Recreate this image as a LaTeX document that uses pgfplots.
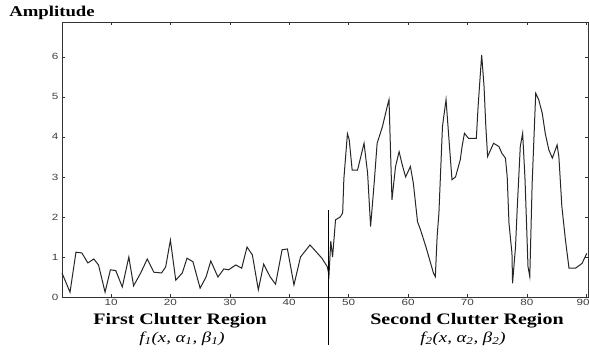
\documentclass[border=0pt]{standalone}
\usepackage{fontspec}
\usepackage{pgfplots}
\pgfplotsset{compat=1.18}
\setmainfont{Liberation Serif}
\newfontfamily\labelfont[FakeStretch=1.25]{Liberation Serif}
\newfontfamily\tickfont[FakeStretch=1.3]{Liberation Sans}
\begin{document}
\begin{tikzpicture}[x=1pt,y=1pt]
\path[use as bounding box] (0,0) rectangle (589,354);
\begin{axis}[
  at={(62pt,57pt)}, anchor=south west,
  scale only axis, width=526pt, height=275pt,
  xmin=1.75, xmax=90.3, ymin=0, ymax=6.87,
  xtick={10,20,...,90}, ytick={0,1,...,6},
  xticklabels={10,20,30,40,50,60,70,80,\makebox[7pt][r]{90}},
  tick pos=both, tick align=inside,
  major tick length=3pt,
  axis line style={line width=0.9pt, black!80},
  tick style={black!80, line width=0.6pt},
  /pgf/number format/assume math mode=true,
  tick label style={font=\tickfont\fontsize{9}{10}\selectfont, text=black!75},
  xticklabel style={yshift=1pt},
  clip=false,
]
\addplot[black!85, line width=1pt] coordinates {
(1.75,0.6) (3.1,0.12) (4.1,1.12) (5.1,1.1) (6.1,0.85) (7.1,0.95) (7.9,0.8)
(9.0,0.12) (9.9,0.68) (10.8,0.66) (11.9,0.25) (13.0,1.0) (13.8,0.28)
(15.0,0.6) (16.1,0.95) (17.2,0.62) (18.5,0.6) (19.2,0.75) (20.0,1.42)
(20.9,0.42) (22.0,0.6) (22.8,0.97) (23.8,0.88) (25.0,0.22) (26.0,0.5)
(26.8,0.9) (28.0,0.5) (29.0,0.7) (29.8,0.68) (31.0,0.8) (32.0,0.72)
(32.9,1.25) (33.8,1.05) (34.8,0.18) (35.7,0.82) (36.8,0.5) (37.7,0.32)
(38.8,1.18) (39.7,1.2) (40.8,0.3) (41.9,1.0) (43.5,1.3) (45.5,0.97)
(46.4,0.76) (46.7,0.55) (47.0,1.4) (47.3,1.0) (47.8,1.93) (48.6,2.0)
(49.0,2.1) (49.2,2.95) (49.8,4.08) (50.1,3.93) (50.6,3.17) (51.5,3.17)
(52.6,3.84) (53.2,3.09) (53.7,1.76) (54.3,2.84) (54.8,3.84) (55.7,4.26)
(56.5,4.76) (56.8,4.93) (57.3,2.43) (57.9,3.26) (58.5,3.63) (59.1,3.26)
(59.6,3.0) (60.4,3.26) (60.9,2.84) (61.6,1.88) (62.1,1.68) (63.0,1.26)
(64.3,0.59) (64.6,0.51) (64.9,1.51) (65.2,2.09) (65.8,4.26) (66.4,4.93)
(66.9,3.93) (67.4,2.93) (68.0,3.0) (68.8,3.43) (69.1,3.76) (69.5,4.09)
(70.2,3.96) (71.5,3.96) (71.8,4.76) (72.4,6.05) (72.8,5.26) (73.1,4.26)
(73.4,3.51) (74.4,3.84) (75.3,3.76) (75.8,3.59) (76.4,3.47) (76.7,3.0)
(77.0,1.84) (77.5,1.09) (77.6,0.34) (78.1,1.26) (78.4,2.26) (78.9,3.76)
(79.3,4.09) (79.7,2.93) (80.2,0.76) (80.5,0.51) (80.9,2.84) (81.5,5.09)
(82.0,4.93) (82.6,4.59) (83.1,4.09) (83.7,3.68) (84.3,3.47) (85.1,3.8)
(85.4,3.5) (85.9,2.26) (86.5,1.43) (87.1,0.72) (88.2,0.72) (89.3,0.84)
(90.1,1.09)
};
\end{axis}
\draw[black, line width=0.9pt] (328,144) -- (328,9);
\node[font=\labelfont\bfseries\fontsize{15}{17}\selectfont, inner sep=0pt] at (52,341) {Amplitude};
\node[font=\labelfont\bfseries\fontsize{16}{18}\selectfont, inner sep=0pt] at (180,33) {First Clutter Region};
\node[font=\labelfont\itshape\fontsize{15}{17}\selectfont, inner sep=0pt] at (182,15) {f\textsubscript{1}(x, α\textsubscript{1}, β\textsubscript{1})};
\node[font=\labelfont\bfseries\fontsize{16}{18}\selectfont, inner sep=0pt] at (467,33) {Second Clutter Region};
\node[font=\labelfont\itshape\fontsize{15}{17}\selectfont, inner sep=0pt] at (463,15) {f\textsubscript{2}(x, α\textsubscript{2}, β\textsubscript{2})};
\end{tikzpicture}
\end{document}
